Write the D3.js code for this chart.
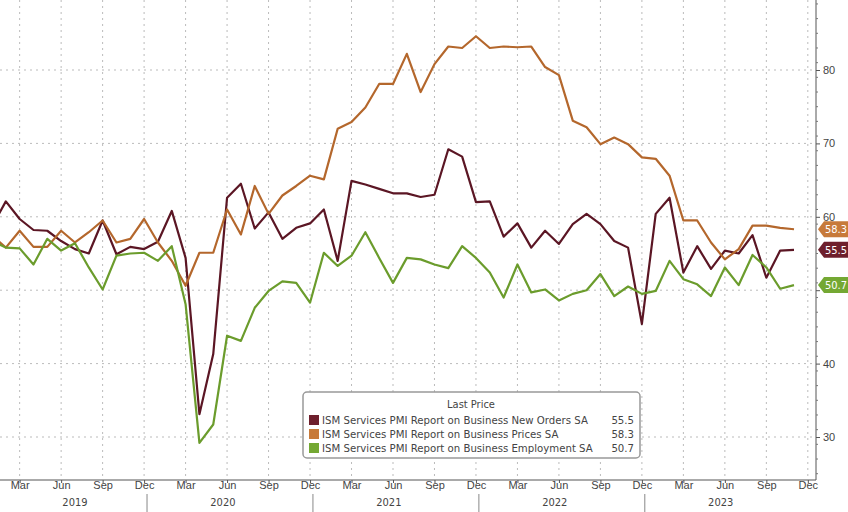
<!DOCTYPE html>
<html><head><meta charset="utf-8">
<script src="https://cdn.jsdelivr.net/npm/d3@7"></script>
<style>body{margin:0;background:#fff;}svg{display:block;font-family:"DejaVu Sans Condensed","DejaVu Sans",sans-serif;}</style>
</head><body><svg id="c" width="848" height="512"></svg>
<script>
const startYear = 2019, startMonth = 0; // Jan 2019
const newOrders = [58.7,62.1,59.7,58.2,58.1,56.7,55.6,55.0,59.5,54.9,55.9,55.6,
  56.6,60.8,54.4,33.1,41.3,62.6,64.5,58.4,60.6,57.0,58.5,59.1,
  61.0,54.0,64.9,64.4,63.8,63.2,63.2,62.7,63.0,69.2,68.2,62.0,
  62.1,57.3,59.1,55.8,58.1,56.3,59.0,60.4,59.0,56.7,55.8,45.4,
  60.4,62.6,52.4,56.0,52.9,55.4,55.0,57.5,51.7,55.4,55.5];
const prices = [57.5,55.8,58.1,55.9,55.9,58.1,56.5,57.9,59.5,56.5,57.0,59.7,
  56.5,54.0,50.6,55.1,55.1,61.0,57.6,64.2,60.4,62.9,64.2,65.6,
  65.1,72.0,72.9,74.9,78.1,78.1,82.2,77.0,80.8,83.2,83.0,84.6,
  83.0,83.2,83.1,83.2,80.4,79.3,73.1,72.2,69.9,70.8,69.9,68.1,
  67.9,65.6,59.5,59.5,56.5,54.2,55.6,58.8,58.8,58.5,58.3];
const employment = [56.7,55.8,55.7,53.5,57.0,55.4,56.4,53.1,50.1,54.7,55.0,55.1,
  54.0,56.0,48.1,29.2,31.7,43.8,43.1,47.6,49.9,51.2,51.0,48.3,
  55.1,53.3,54.7,57.9,54.4,51.0,54.4,54.2,53.5,53.0,56.0,54.4,
  52.4,49.0,53.5,49.7,50.1,48.6,49.5,50.0,52.2,49.2,50.5,49.5,
  49.9,54.0,51.5,50.8,49.2,53.1,50.7,54.8,53.1,50.2,50.7];
const seriesNames = ["ISM Services PMI Report on Business New Orders SA",
  "ISM Services PMI Report on Business Prices SA",
  "ISM Services PMI Report on Business Employment SA"];
const lastLabels = ["55.5","58.3","50.7"];
const colors = ["#5b1624","#b4672c","#6b9c2c"];
const yTicks = [30,40,50,60,70,80];
const monthNames = ["Jan","Feb","Mar","Apr","May","Jun","Jul","Aug","Sep","Oct","Nov","Dec"];
const years = [2019,2020,2021,2022,2023];

const svg = d3.select("#c");
const x = d3.scaleLinear().domain([0,58]).range([-8,794]);
const y = d3.scaleLinear().domain([30,80]).range([437,70]);
const axisX = 816, bottom = 480;

const g = svg.append("g");
yTicks.forEach(v=>{
  g.append("line").attr("x1",0).attr("x2",axisX).attr("y1",y(v)).attr("y2",y(v))
   .attr("stroke","#bbb").attr("stroke-dasharray","2,4");
});
const qIdx = d3.range(2,60,3);
qIdx.forEach(i=>{
  g.append("line").attr("x1",x(i)).attr("x2",x(i)).attr("y1",0).attr("y2",bottom)
   .attr("stroke","#bbb").attr("stroke-dasharray","2,4");
});
g.append("line").attr("x1",axisX).attr("x2",axisX).attr("y1",0).attr("y2",bottom).attr("stroke","#555");
g.append("line").attr("x1",0).attr("x2",axisX).attr("y1",bottom).attr("y2",bottom).attr("stroke","#555");
const yAxis = d3.axisRight(y).tickValues(yTicks).tickSize(4).tickFormat(d=> d===50 ? "" : d3.format("d")(d));
const ya = svg.append("g").attr("transform",`translate(${axisX},0)`).call(yAxis);
ya.select(".domain").remove();
ya.selectAll("text").attr("fill","#444").style("font-size","11px");
ya.selectAll("line").attr("stroke","#555");
d3.range(25,90,2).forEach(v=>{ if(y(v)>0&&y(v)<bottom) svg.append("line").attr("x1",axisX).attr("x2",axisX+2).attr("y1",y(v)).attr("y2",y(v)).attr("stroke","#777");});
const xa = svg.append("g").attr("transform",`translate(0,${bottom})`)
  .call(d3.axisBottom(x).tickValues(qIdx).tickSize(3).tickFormat(i=>monthNames[(startMonth+i)%12]));
xa.select(".domain").remove();
xa.selectAll("text").attr("fill","#444").style("font-size","11px").attr("dy","0.3em");
xa.selectAll("line").attr("stroke","#555");
years.forEach((yr,k)=>{
  if(k>0){ const sx = x(12*k-0.5)-4;
    svg.append("line").attr("x1",sx).attr("x2",sx).attr("y1",bottom+14).attr("y2",512).attr("stroke","#888");}
  const cx = k===0 ? x(6) : x(12*k+4.7);
  svg.append("text").attr("x",cx).attr("y",506).attr("text-anchor","middle").attr("fill","#444").style("font-size","11px").text(yr);
});
const line = d3.line().x((d,i)=>x(i)).y(d=>y(d));
[newOrders,prices,employment].forEach((s,k)=>{
  svg.append("path").datum(s).attr("d",line).attr("fill","none").attr("stroke",colors[k]).attr("stroke-width",2.2).attr("stroke-linejoin","round");
});
const tagFill = ["#6e1f2c","#c77a3a","#74a833"];
[newOrders,prices,employment].forEach((s,k)=>{
  const ty = y(s[s.length-1]);
  svg.append("path").attr("d",`M${axisX+2},${ty} l6,-8 h32 v16 h-32 z`).attr("fill",tagFill[k]);
  svg.append("text").attr("x",axisX+9).attr("y",ty+4).attr("fill","#fff").style("font-size","11px").text(lastLabels[k]);
});
const lg = svg.append("g").attr("transform","translate(303,392)");
lg.append("rect").attr("width",337).attr("height",66).attr("rx",4).attr("fill","#fff").attr("stroke","#999").attr("stroke-width",1.5);
lg.append("text").attr("x",168).attr("y",16).attr("text-anchor","middle").attr("fill","#444").style("font-size","11px").text("Last Price");
seriesNames.forEach((n,k)=>{
  const ry = 22+k*14;
  lg.append("rect").attr("x",6).attr("y",ry+1).attr("width",10).attr("height",10).attr("fill",tagFill[k]);
  lg.append("text").attr("x",19).attr("y",ry+10).attr("fill","#444").style("font-size","11.3px").text(n);
  lg.append("text").attr("x",331).attr("y",ry+10).attr("text-anchor","end").attr("fill","#444").style("font-size","11.3px").text(lastLabels[k]);
});
</script></body></html>
